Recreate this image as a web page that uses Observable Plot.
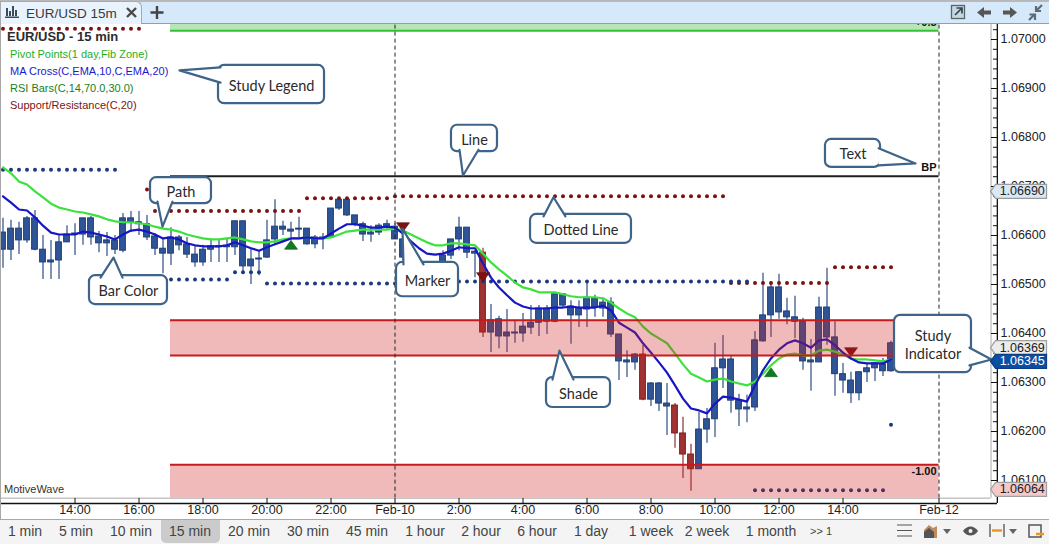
<!DOCTYPE html>
<html><head><meta charset="utf-8">
<script src="https://cdn.jsdelivr.net/npm/d3@7"></script>
<script src="https://cdn.jsdelivr.net/npm/@observablehq/plot@0.6"></script>
<style>
html,body{margin:0;padding:0;background:#fff;overflow:hidden}
body{width:1049px;height:544px;position:relative;font-family:"Liberation Sans",Arial,sans-serif}
#tabs{position:absolute;left:0;top:0;width:1049px;height:23px;background:#d6e9fb;border-bottom:1px solid #9c9c9c;z-index:3;box-shadow:inset 0 2px 0 #b9b9b9}
#tab{position:absolute;left:0;top:1px;width:142px;height:23px;background:#e9f3fd;border:1px solid #a9a9a9;border-bottom:none;border-radius:0 6px 0 0;box-sizing:border-box;font-size:13.5px;color:#3a3a3a;line-height:23px;padding-left:25px}
#chart{position:absolute;left:0;top:24px;width:1049px;height:494px}
#bottom{position:absolute;left:0;top:519px;width:1049px;height:24px;background:#f4f4f4;border-top:1px solid #a8a8a8;border-bottom:1px solid #a8a8a8;z-index:3;font-size:14px;color:#444}
#bottom span{position:absolute;top:-1px;height:24px;line-height:24px;transform:translateX(-50%);white-space:nowrap}
#active{position:absolute;left:161px;top:0;width:59px;height:23px;background:#cbcbcb;border-radius:0 0 5px 5px}
#legend{position:absolute;left:0;top:0;z-index:2;pointer-events:none}
#legend div{position:absolute;white-space:nowrap;font-size:11px}
.ic{position:absolute;left:0;top:0;z-index:4}
#frame{position:absolute;left:0;top:24px;width:1px;height:495px;background:#a8a8a8;z-index:2}
</style></head>
<body>
<div id="tabs"><div id="tab">EUR/USD 15m</div></div>
<div id="chart"></div>
<div id="frame"></div>
<div id="legend">
  <div style="left:7px;top:29px;font-size:13px;font-weight:bold;color:#2c2c2c">EUR/USD - 15 min</div>
  <div style="left:10px;top:48px;color:#1fae1f">Pivot Points(1 day,Fib Zone)</div>
  <div style="left:10px;top:65px;color:#1a1acb">MA Cross(C,EMA,10,C,EMA,20)</div>
  <div style="left:10px;top:82px;color:#15801f">RSI Bars(C,14,70.0,30.0)</div>
  <div style="left:10px;top:99px;color:#7a1414">Support/Resistance(C,20)</div>
  <div style="left:4px;top:483px;font-size:11px;color:#333">MotiveWave</div>
</div>
<div id="bottom"><div id="active"></div></div>
<svg class="ic" width="1049" height="544" style="pointer-events:none">
  <g fill="#3d4a5a"><rect x="6" y="8" width="2" height="8"/><rect x="9" y="11" width="2" height="5"/><rect x="12" y="6" width="2" height="10"/><rect x="15" y="10" width="2" height="6"/><rect x="5" y="16.5" width="14" height="1.5"/></g>
  <path d="M127 8l9 9M136 8l-9 9" stroke="#4a4a4a" stroke-width="2.4"/>
  <path d="M157 6v13M150.5 12.500h13" stroke="#444" stroke-width="2.4"/>
  <rect x="951.500" y="5.500" width="13" height="13" fill="#c9d6e2" stroke="#566" stroke-width="1.3"/>
  <path d="M955 15l6-6M956.500 8h5.500v5.500" fill="none" stroke="#2f4858" stroke-width="1.7"/>
  <path d="M977 12.500l7-5.500v3.500h7v4h-7v3.500zM1017 12.500l-7-5.500v3.500h-7v4h7v3.500z" fill="#565656"/>
  <path d="M1042 5l-5 5M1036 6v5h5M1029 20l5-5M1029.500 14.500h5.500v5.500" fill="none" stroke="#5e6a70" stroke-width="2.2"/>
  <path d="M897 525h15M897 530.500h15M897 536h15" stroke="#555" stroke-width="1.2"/>
  <path d="M924 538v-8l5-5 4 3 4-2v12z" fill="#b3703a" opacity=".8"/><path d="M924 538v-6l5-4 5 4v6z" fill="#555"/>
  <path d="M943 529h8l-4 5zM1009 529h8l-4 5z" fill="#666"/>
  <path d="M963 531c4-6 11-6 15 0c-4 6-11 6-15 0z" fill="#555"/><circle cx="970.500" cy="531" r="2" fill="#f4f4f4"/>
  <path d="M990 524v13M1004 524v13" stroke="#666" stroke-width="1.500"/><path d="M992 530.500h10" stroke="#e89a20" stroke-width="2.500"/>
  <rect x="1029" y="525" width="12" height="12" fill="none" stroke="#555" stroke-width="1.500"/><path d="M1036 534h8" stroke="#e89a20" stroke-width="2.500"/>
</svg>
<script>
// Prices are written as points above 1.06000 (635 = 1.06635)
const highPts = [635,631,627,639,651,600,590,602,620,624,
635,639,608,606,600,645,649,649,641,604,
594,616,600,596,578,580,590,590,594,629,
629,574,569,631,673,629,627,637,614,600,
604,655,673,673,641,627,620,624,631,624,
594,569,553,545,545,569,592,637,616,569,
574,459,435,449,427,441,457,457,457,480,
480,467,467,502,478,471,473,398,365,359,
376,300,300,298,257,229,174,239,247,380,
396,355,276,274,404,523,506,521,472,476,
431,388,474,533,424,339,321,321,339,341,
349,384];
const bodyTopPts = [606,614,614,635,635,571,549,586,602,604,
635,635,598,590,590,635,635,627,623,598,
573,596,596,582,561,571,578,578,579,629,
629,551,553,590,618,618,612,614,614,596,
596,655,673,673,641,623,606,620,623,618,
592,557,545,537,533,559,592,616,616,567,
565,427,429,402,402,414,422,451,451,480,
480,455,451,473,471,463,463,398,345,357,
357,298,298,257,253,196,153,204,225,329,
347,347,263,249,386,437,494,494,445,433,
424,345,453,453,392,317,304,321,329,339,
337,380];
const bodyBottomPts = [571,571,590,590,571,545,545,549,586,602,
602,596,584,584,571,569,627,623,596,573,
563,563,580,561,545,545,571,576,576,576,
537,537,551,555,592,612,608,612,582,582,
594,596,655,641,623,602,602,606,616,592,
555,535,533,529,525,533,559,592,565,563,
402,402,394,394,400,400,412,422,424,424,
457,437,437,449,453,451,398,343,341,341,
265,265,257,251,196,153,123,123,204,225,
329,263,245,245,249,384,437,443,433,424,
343,341,341,392,317,304,278,278,321,329,
323,323];
const lowPts = [533,549,561,584,569,510,510,510,586,559,
580,580,565,557,561,565,606,600,590,559,
522,539,569,553,535,537,545,545,545,559,
522,500,518,553,580,600,590,596,580,573,
571,594,651,639,618,588,586,600,610,592,
549,529,525,516,512,520,551,569,553,514,
392,361,369,361,380,382,398,394,398,422,
453,378,412,412,433,433,392,304,310,325,
263,251,241,192,166,104,78,123,176,188,
288,237,210,218,241,382,392,429,418,390,
325,282,341,376,272,278,257,263,300,302,
312,321];
const ema20Pts = [739,727,710,704,690,678,665,657,653,649,647,643,639,633,629,627,627,625,623,618,
614,612,608,602,598,594,592,592,594,596,592,588,586,586,588,592,594,594,596,594,
594,596,602,608,610,612,612,612,612,614,610,602,594,586,580,580,584,584,582,580,
563,545,531,518,504,494,490,484,484,484,480,476,474,474,474,472,463,451,441,433,
414,400,390,380,359,337,318,310,302,306,308,302,298,294,302,318,335,349,357,359,
355,355,365,367,363,357,349,347,347,345,343,347];
const ema10Pts = [680,667,653,651,637,620,606,602,602,602,608,606,602,598,592,602,610,612,608,602,
594,596,592,584,580,578,578,578,580,586,580,574,569,576,582,588,594,594,596,594,
594,604,614,623,623,620,616,616,618,616,604,588,574,563,561,563,569,576,574,574,
543,514,494,478,463,455,451,451,451,453,453,455,453,453,453,457,447,422,412,402,
380,361,341,320,294,267,247,243,237,257,271,269,265,261,294,325,349,367,380,386,
380,371,386,388,376,361,349,341,339,339,339,347];
const redBars = [60,80,84,85,86];
const resistanceSegments = [[0,17,1022],[18,18,694],[19,37,650],[38,48,676],[49,90,680],[91,103,503],[104,111,535]];
const supportSegments = [[0,14,734],[21,28,510],[29,32,525],[33,49,502],[50,93,506],[94,110,80],[111,111,214]];
const buyBars = [36,96], buyPts = [580,320];
const sellBars = [50,60,106], sellPts = [618,516,363];
const sessionStart = 20.94, sessionEnd = 117;
const pivotTop = 1018, pivotBP = 721, zoneUpper = 427, zoneLower = 355, zoneLow = 132, zoneBottom = 64;
const zoneLabels = ["+0.5","BP","-1.00"], zoneLabelPts = [1035,739,118];
const xTickBars = [9,17,25,33,41,49,57,65,73,81,89,97,105,117];
const xTickLabels = ["14:00","16:00","18:00","20:00","22:00","Feb-10","2:00","4:00","6:00","8:00","10:00","12:00","14:00","Feb-12"];
const yMajor = [1.061,1.062,1.063,1.064,1.065,1.066,1.067,1.068,1.069,1.07];
const timeframes = ["1 min","5 min","10 min","15 min","20 min","30 min","45 min","1 hour","2 hour","6 hour","1 day","1 week","2 week","1 month",">> 1"];
const timeframeCenters = [25,76,131,190,249,308,367,425,481,537,591,651,707,771,821];
const tagTexts = ["1.06690","1.06064","1.06369","1.06345"], tagPts = [690,82,371,343];
const tagFills = ["#d9e8f6","#f4c9c9","#ececec","#0b4fa3"], tagStrokes = ["#9a9a9a","#a0a0a0","#a0a0a0","#0a3f85"], tagInks = ["#222","#222","#222","#fff"];
// callouts: label, box bar1, bar2, top pts, bottom pts, then tail base and tip
const calloutLabels = ["Study Legend","Path","Bar Color","Line","Text","Dotted Line","Marker","Shade","Study\nIndicator"];
const calloutBoxes = [[26.94,40.19,947,869],[18.44,26.06,718,665],[10.81,20.56,518,459],[56.06,61.81,825,771],[102.81,109.69,796,739],[65.94,78.56,643,584],[49.19,56.94,545,475],[67.94,75.94,310,249],[111.44,121.06,437,320]];
const calloutTails = [
 [[27.19,943],[22.06,937],[27.19,912]],
 [[19.31,669],[19.94,618],[21.19,669]],
 [[12.19,514],[13.81,555],[14.94,514]],
 [[57.06,775],[57.5,722.5],[59.44,775]],
 [[109.44,778],[114.06,747],[109.44,743]],
 [[67.56,639],[68.81,678],[70.31,639]],
 [[50.06,541],[49.94,614],[52.56,541]],
 [[68.69,306],[69.56,365],[71.31,306]],
 [[120.81,371],[123.56,347],[120.81,335]]];

const P = v => 1.06 + v / 1e5;
const bars = highPts.map((h, i) => ({i, high: P(h), low: P(lowPts[i]), top: P(bodyTopPts[i]), bottom: P(bodyBottomPts[i]), red: redBars.includes(i), ema10: P(ema10Pts[i]), ema20: P(ema20Pts[i])}));
const expand = segs => segs.flatMap(([a, b, v]) => d3.range(a, b + 1).map(i => ({i, p: P(v)})));
const up = {draw(c){c.moveTo(0,-5);c.lineTo(6.5,4);c.lineTo(-6.5,4);c.closePath();}};
const down = {draw(c){c.moveTo(0,5);c.lineTo(6.5,-4);c.lineTo(-6.5,-4);c.closePath();}};
const tagShape = {draw(c){c.moveTo(0,0);c.lineTo(5,-7);c.lineTo(56,-7);c.lineTo(56,7);c.lineTo(5,7);c.closePath();}};

const blue = "#2f5597", blueEdge = "#1c3d78", red = "#a03232", redEdge = "#7d1f1f";
const calloutStroke = "#3f6489";
const paneRight = 123.5, axisBar = 124.3125, tickMajor = 123.56, tickMinor = 123.81;
const yMinor = d3.range(0, 50).map(k => 1.0610 + k * 0.0002).filter(v => v <= 1.0703 && Math.abs(v * 1000 - Math.round(v * 1000)) > 1e-6);
const pBottom = P(zoneBottom);

const tailPts = calloutTails.flatMap((t, id) => t.map(([x, y]) => ({id, x, y: P(y)})));
const boxes = calloutBoxes.map(([x1, x2, y1, y2], k) => ({x1, x2, y1: P(y1), y2: P(y2), label: calloutLabels[k]}));

const plot = Plot.plot({
  width: 1049, height: 494,
  marginTop: 0, marginBottom: 15, marginLeft: 0, marginRight: 52,
  x: {domain: [-0.3125, axisBar], axis: null},
  y: {domain: [1.0605306, 1.0703061], axis: null},
  style: {background: "transparent", fontFamily: "'Liberation Sans', Arial, sans-serif", fontSize: "12.500px", color: "#222"},
  marks: [
    // candles
    Plot.ruleX(bars, {x: "i", y1: "low", y2: "high", stroke: d => d.red ? redEdge : blueEdge, strokeWidth: 1.1}),
    Plot.rect(bars, {x1: d => d.i - 0.36, x2: d => d.i + 0.36, y1: "bottom", y2: "top", fill: d => d.red ? red : blue, stroke: d => d.red ? redEdge : blueEdge, strokeWidth: 1}),
    // support / resistance dots
    Plot.dot(expand(resistanceSegments), {x: "i", y: "p", r: 2, fill: "#7a1414"}),
    Plot.dot(expand(supportSegments), {x: "i", y: "p", r: 2, fill: "#1b3a7c"}),
    // moving averages
    Plot.line(bars, {x: "i", y: "ema20", stroke: "#3ce23c", strokeWidth: 2.2}),
    Plot.line(bars, {x: "i", y: "ema10", stroke: "#1616c4", strokeWidth: 2.2}),
    // markers
    Plot.dot(buyBars.map((b, k) => ({b, p: P(buyPts[k])})), {x: "b", y: "p", symbol: up, r: 5, fill: "#0f7a1f", stroke: "#0b5f17", strokeWidth: .6}),
    Plot.dot(sellBars.map((b, k) => ({b, p: P(sellPts[k])})), {x: "b", y: "p", symbol: down, r: 5, fill: "#7d1212", stroke: "#5f0c0c", strokeWidth: .6}),
    // pivot zones
    Plot.rect([{a: zoneLower, b: zoneUpper}, {a: zoneBottom, b: zoneLow}], {x1: sessionStart, x2: sessionEnd, y1: d => P(d.a), y2: d => P(d.b), fill: "#cf1f1f", fillOpacity: .31}),
    Plot.rect([{a: pivotTop, b: 1031}], {x1: sessionStart, x2: sessionEnd, y1: d => P(d.a), y2: d => P(d.b), fill: "#2fb82f", fillOpacity: .35}),
    Plot.ruleY([zoneUpper, zoneLower, zoneLow].map(P), {x1: sessionStart, x2: sessionEnd, stroke: "#c81a1a", strokeWidth: 2}),
    Plot.ruleY([P(pivotTop)], {x1: sessionStart, x2: sessionEnd, stroke: "#35c035", strokeWidth: 2}),
    Plot.ruleY([P(pivotBP)], {x1: sessionStart, x2: sessionEnd, stroke: "#1f1f1f", strokeWidth: 2}),
    // session separators
    Plot.ruleX([49, sessionEnd], {y1: pBottom, y2: 1.0703061, stroke: "#222", strokeWidth: 1, strokeDasharray: "4,3"}),
    Plot.text(zoneLabels.map((t, k) => ({t, p: P(zoneLabelPts[k])})), {x: 116.7, y: "p", text: "t", textAnchor: "end", fontWeight: "bold", fontSize: 11, fill: "#111"}),
    // pane frame and axes
    Plot.ruleX([paneRight], {y1: pBottom, y2: 1.0703061, stroke: "#a8a8a8", strokeWidth: 1}),
    Plot.ruleY([pBottom], {x1: -0.3125, x2: paneRight, stroke: "#a8a8a8", strokeWidth: 1}),
    Plot.ruleX([axisBar - .02], {y1: 1.0605306, y2: 1.0703061, stroke: "#111", strokeWidth: 1.3}),
    Plot.ruleY([1.0605306], {x1: -0.3125, x2: axisBar, stroke: "#111", strokeWidth: 1.3}),
    Plot.ruleY(yMajor, {x1: tickMajor, x2: axisBar, stroke: "#111", strokeWidth: 1}),
    Plot.ruleY(yMinor, {x1: tickMinor, x2: axisBar, stroke: "#111", strokeWidth: 1}),
    Plot.ruleX(xTickBars, {y1: 1.0605306, y2: 1.060633, stroke: "#111", strokeWidth: 1}),
    Plot.axisY({anchor: "right", ticks: yMajor, tickSize: 0, tickPadding: 3, tickFormat: d => d.toFixed(5), fill: "#222"}),
    Plot.axisX({ticks: xTickBars, tickSize: 0, tickPadding: 2, tickFormat: d => xTickLabels[xTickBars.indexOf(d)], fill: "#222"}),
    // callouts
    Plot.rect(boxes, {x1: "x1", x2: "x2", y1: "y1", y2: "y2", rx: 6, fill: "#fff", stroke: calloutStroke, strokeWidth: 2.2}),
    Plot.line(tailPts, {x: "x", y: "y", z: "id", fill: "#fff", stroke: calloutStroke, strokeWidth: 2.2}),
    Plot.text(boxes, {x: d => (d.x1 + d.x2) / 2, y: d => (d.y1 + d.y2) / 2, text: "label", fontFamily: "Lato, sans-serif", fontSize: 14.5, lineHeight: 1.3, fill: "#2a2a2a"}),
    // last-value tags
    ...tagTexts.map((t, k) => Plot.dot([P(tagPts[k])], {x: 123.44, y: d => d, symbol: tagShape, r: 5, fill: tagFills[k], stroke: tagStrokes[k], strokeWidth: 1.2})),
    ...tagTexts.map((t, k) => Plot.text([t], {x: 124.58, y: P(tagPts[k]), text: d => d, textAnchor: "start", fill: tagInks[k], fontSize: 12.5}))
  ]
});
document.getElementById("chart").append(plot);
const bottom = document.getElementById("bottom");
timeframes.forEach((t, k) => { const s = document.createElement("span"); s.textContent = t; s.style.left = timeframeCenters[k] + "px"; if (t.startsWith(">>")) s.style.fontSize = "11px"; bottom.append(s); });
</script>
</body></html>
